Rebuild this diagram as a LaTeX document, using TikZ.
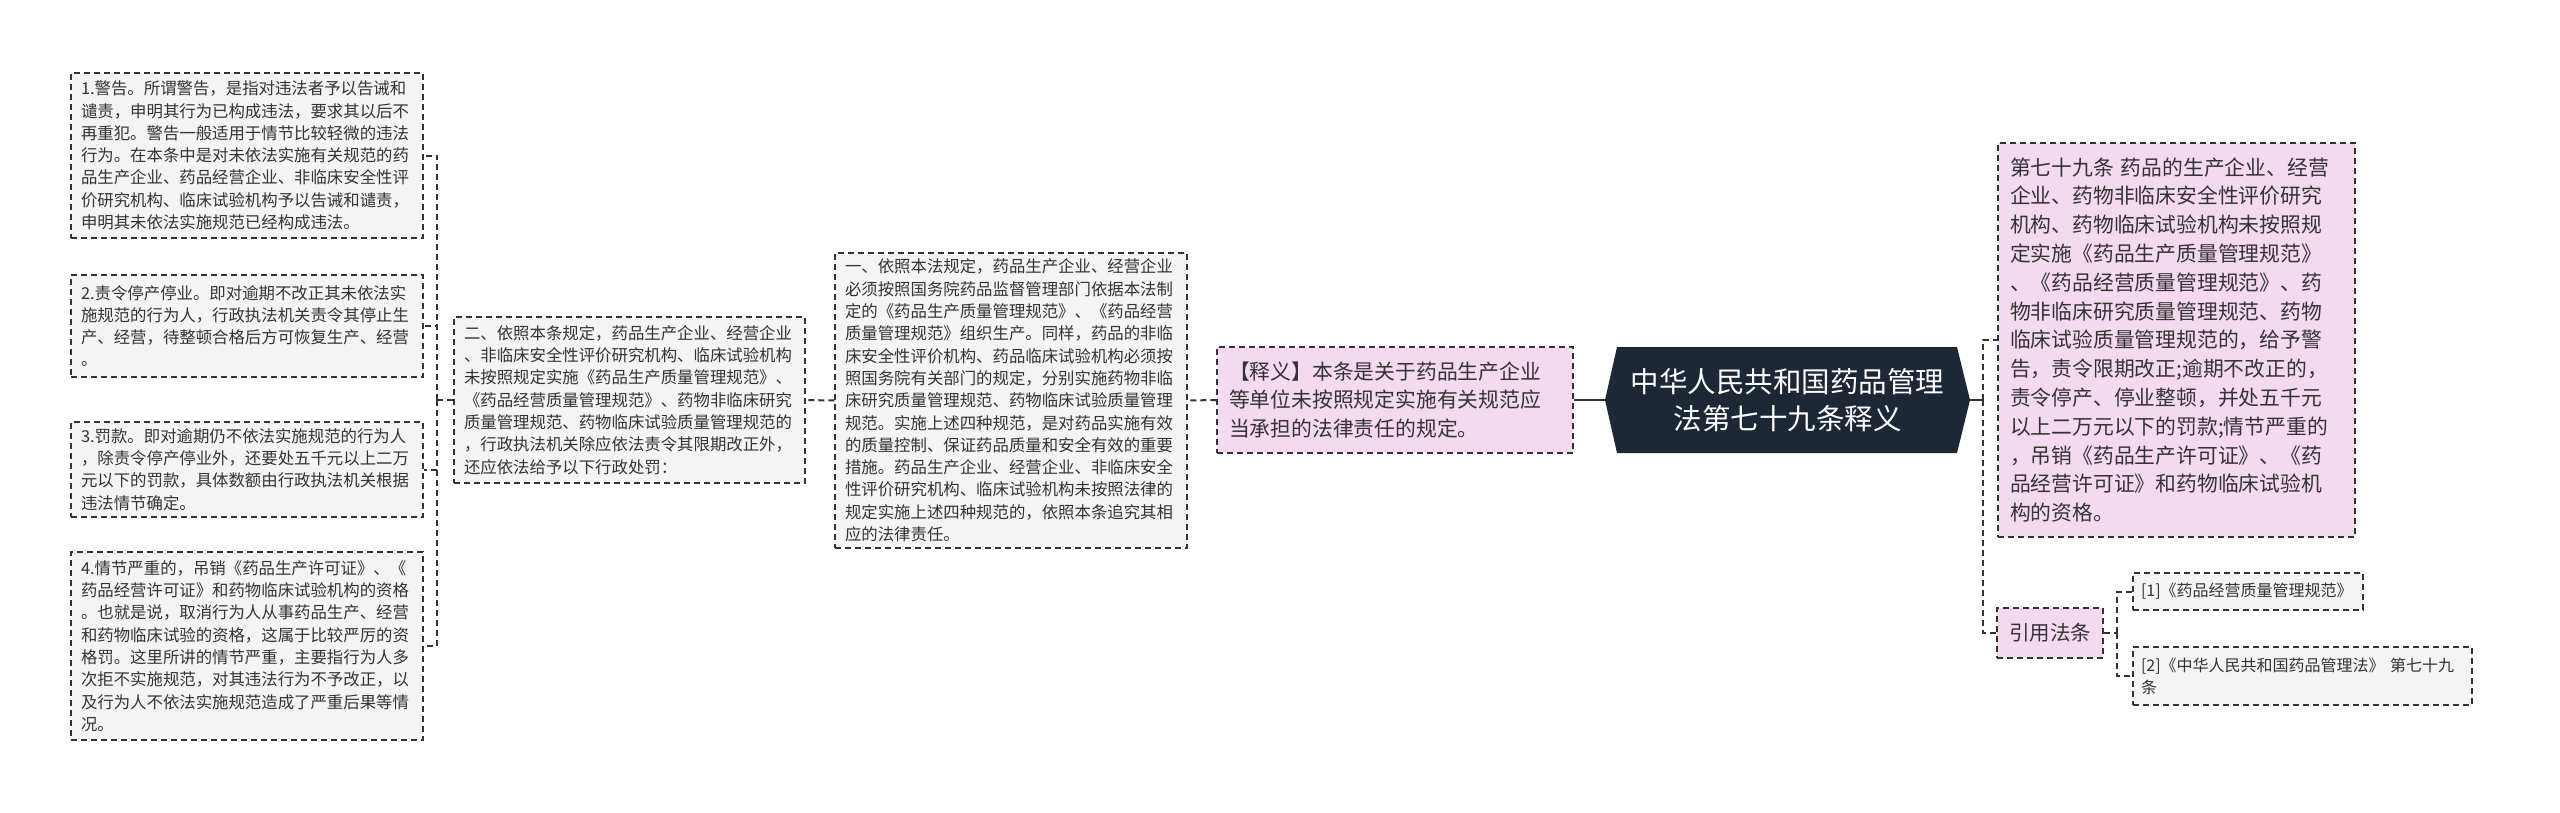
\documentclass[tikz,border=0pt]{standalone}
\usepackage{fontspec}
\setmainfont{Noto Sans CJK SC}
\definecolor{linec}{RGB}{51,51,51}
\definecolor{textc}{RGB}{51,51,51}
\definecolor{grayfill}{RGB}{244,244,244}
\definecolor{pinkfill}{RGB}{245,217,239}
\definecolor{rootfill}{RGB}{28,40,54}
\begin{document}
\begin{tikzpicture}[x=1pt,y=-1pt,
  gbox/.style={draw=linec, dash pattern=on 6pt off 4pt, line width=1.3pt, fill=grayfill, text=textc,
    align=left, inner xsep=10pt, inner ysep=2pt, font=\fontsize{16.4}{22.3}\selectfont},
  pbox/.style={draw=linec, dash pattern=on 6pt off 4pt, line width=1.3pt, fill=pinkfill, text=textc,
    align=left, inner xsep=12pt, inner ysep=2pt, font=\fontsize{20.8}{28.8}\selectfont},
  conn/.style={draw=linec, line width=2pt, dash pattern=on 6pt off 4pt},
  sconn/.style={draw=linec, line width=2.5pt}
]
\useasboundingbox (0,0) rectangle (2560,812);

% root shape
\fill[rootfill] (1617,347) -- (1957,347) -- (1970,400) -- (1957,453) -- (1617,453) -- (1605,400) -- cycle;
\node[minimum width=365pt, minimum height=106pt, inner sep=0pt, text width=345pt, align=center, text=white,
  font=\fontsize{28.5}{36.7}\selectfont] (root) at (1787.5,400)
  {中华人民共和国药品管理\\法第七十九条释义};

% left branch
\node[pbox, text width=332pt, minimum height=106pt] (b7) at (1395,400)
  {【释义】本条是关于药品生产企业\\等单位未按照规定实施有关规范应\\当承担的法律责任的规定。};

\node[gbox, text width=332pt, minimum height=295pt] (b6) at (1011,400.5)
  {一、依照本法规定，药品生产企业、经营企业\\必须按照国务院药品监督管理部门依据本法制\\定的《药品生产质量管理规范》、《药品经营\\质量管理规范》组织生产。同样，药品的非临\\床安全性评价机构、药品临床试验机构必须按\\照国务院有关部门的规定，分别实施药物非临\\床研究质量管理规范、药物临床试验质量管理\\规范。实施上述四种规范，是对药品实施有效\\的质量控制、保证药品质量和安全有效的重要\\措施。药品生产企业、经营企业、非临床安全\\性评价研究机构、临床试验机构未按照法律的\\规定实施上述四种规范的，依照本条追究其相\\应的法律责任。};

\node[gbox, text width=331pt, minimum height=166pt] (b5) at (629.5,400)
  {二、依照本条规定，药品生产企业、经营企业\\、非临床安全性评价研究机构、临床试验机构\\未按照规定实施《药品生产质量管理规范》、\\《药品经营质量管理规范》、药物非临床研究\\质量管理规范、药物临床试验质量管理规范的\\，行政执法机关除应依法责令其限期改正外，\\还应依法给予以下行政处罚：};

\node[gbox, text width=332pt, minimum height=165pt] (b1) at (247,155.5)
  {1.警告。所谓警告，是指对违法者予以告诫和\\谴责，申明其行为已构成违法，要求其以后不\\再重犯。警告一般适用于情节比较轻微的违法\\行为。在本条中是对未依法实施有关规范的药\\品生产企业、药品经营企业、非临床安全性评\\价研究机构、临床试验机构予以告诫和谴责，\\申明其未依法实施规范已经构成违法。};

\node[gbox, text width=332pt, minimum height=102pt] (b2) at (247,326)
  {2.责令停产停业。即对逾期不改正其未依法实\\施规范的行为人，行政执法机关责令其停止生\\产、经营，待整顿合格后方可恢复生产、经营\\。};

\node[gbox, text width=332pt, minimum height=95pt] (b3) at (247,469.5)
  {3.罚款。即对逾期仍不依法实施规范的行为人\\，除责令停产停业外，还要处五千元以上二万\\元以下的罚款，具体数额由行政执法机关根据\\违法情节确定。};

\node[gbox, text width=332pt, minimum height=188pt] (b4) at (247,646)
  {4.情节严重的，吊销《药品生产许可证》、《\\药品经营许可证》和药物临床试验机构的资格\\。也就是说，取消行为人从事药品生产、经营\\和药物临床试验的资格，这属于比较严厉的资\\格罚。这里所讲的情节严重，主要指行为人多\\次拒不实施规范，对其违法行为不予改正，以\\及行为人不依法实施规范造成了严重后果等情\\况。};

% right branch
\node[pbox, text width=333pt, minimum height=394pt] (b9) at (2176.5,340)
  {第七十九条 药品的生产企业、经营\\企业、药物非临床安全性评价研究\\机构、药物临床试验机构未按照规\\定实施《药品生产质量管理规范》\\、《药品经营质量管理规范》、药\\物非临床研究质量管理规范、药物\\临床试验质量管理规范的，给予警\\告，责令限期改正;逾期不改正的，\\责令停产、停业整顿，并处五千元\\以上二万元以下的罚款;情节严重的\\，吊销《药品生产许可证》、《药\\品经营许可证》和药物临床试验机\\构的资格。};

\node[pbox, text width=84pt, inner xsep=11pt, minimum height=50pt, align=center,
  font=\fontsize{20.5}{26}\selectfont] (cite) at (2050,633) {引用法条};

\node[gbox, text width=214pt, inner xsep=8pt, minimum height=37pt, font=\fontsize{16}{22}\selectfont] (r1) at (2248,591.5)
  {[1]《药品经营质量管理规范》};
\node[gbox, text width=323pt, inner xsep=8pt, minimum height=58pt, font=\fontsize{16}{22}\selectfont] (r2) at (2302.5,676)
  {[2]《中华人民共和国药品管理法》 第七十九\\条};

% connectors
\coordinate (lsp) at (437,400);
\coordinate (rsp) at (1983,400);
\coordinate (csp) at (2117,633);

\draw[sconn] (root.west) -- (b7.east);
\draw[conn] (b7.west) -- (b6.east);
\draw[conn] (b6.west) -- (b5.east);
\draw[conn] (b5.west) -- (lsp);
\draw[conn] (lsp) |- (b1.east);
\draw[conn] (lsp) |- (b2.east);
\draw[conn] (lsp) |- (b3.east);
\draw[conn] (lsp) |- (b4.east);

\draw[sconn] (root.east) -- (rsp);
\draw[conn] (rsp) |- (b9.west);
\draw[conn] (rsp) |- (cite.west);
\draw[conn] (cite.east) -- (csp);
\draw[conn] (csp) |- (r1.west);
\draw[conn] (csp) |- (r2.west);
\end{tikzpicture}
\end{document}
